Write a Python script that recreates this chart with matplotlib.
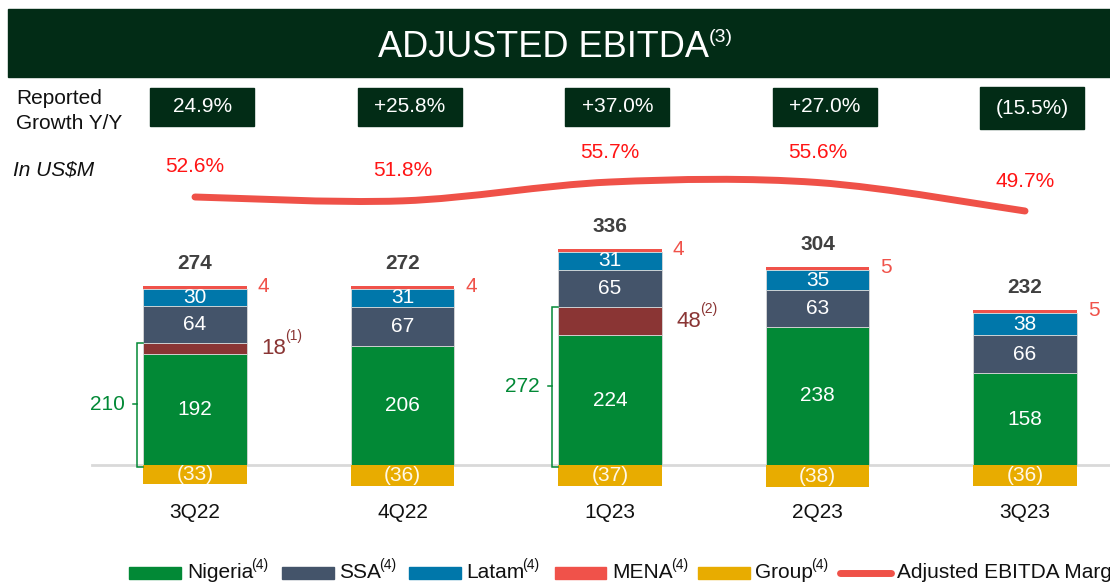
import matplotlib
matplotlib.use('Agg')
import matplotlib.pyplot as plt
import matplotlib.transforms as mtransforms
from matplotlib.patches import Rectangle, PathPatch
from matplotlib.path import Path
import numpy as np

plt.rcParams['font.family'] = ['Liberation Sans', 'DejaVu Sans']

# ---------------- data ----------------
quarters = ['3Q22', '4Q22', '1Q23', '2Q23', '3Q23']
nigeria = [192, 206, 224, 238, 158]
nigeria_other = [18, 0, 48, 0, 0]
other_notes = ['(1)', '', '(2)', '', '']
ssa = [64, 67, 65, 63, 66]
latam = [30, 31, 31, 35, 38]
mena = [4, 4, 4, 5, 5]
group = [-33, -36, -37, -38, -36]
totals = [274, 272, 336, 304, 232]
margin = [52.6, 51.8, 55.7, 55.6, 49.7]
growth = ['24.9%', '+25.8%', '+37.0%', '+27.0%', '(15.5%)']

# ---------------- style ----------------
C_NIG = '#028936'
C_OTH = '#8a3534'
C_SSA = '#44546a'
C_LAT = '#0077aa'
C_MENA = '#f0524a'
C_GRP = '#e8ac00'
C_LINE = '#ef5148'
C_DARK = '#022c16'
C_PCT = '#ff1414'

W, H = 1110, 583
fig = plt.figure(figsize=(W / 100, H / 100), dpi=100)
fig.patch.set_facecolor('white')


def fx(px):
    return px / W


def fy(py):
    return 1 - py / H


renderer = fig.canvas.get_renderer()


def add_sup(t, s, size, color, up_px, gap_px=0):
    bb = t.get_window_extent(renderer)
    return fig.text((bb.x1 + gap_px) / W, (bb.y1 + up_px) / H, s, fontsize=size,
                    color=color, ha='left', va='top')


# ---------------- banner ----------------
fig.add_artist(Rectangle((fx(8), fy(77)), fx(1110) - fx(8), fy(9) - fy(77),
                         transform=fig.transFigure, color=C_DARK, zorder=0))
title = fig.text(fx(543), fy(57), 'ADJUSTED EBITDA', color='white', fontsize=26,
                 ha='center', va='baseline')
add_sup(title, '(3)', 14, 'white', 1, gap_px=0)

fig.text(fx(16), fy(98), 'Reported', fontsize=15, va='center', ha='left', color='#111111')
fig.text(fx(16), fy(124), 'Growth Y/Y', fontsize=15, va='center', ha='left', color='#111111')
fig.text(fx(13), fy(170), 'In US$M', fontsize=15, va='center', ha='left',
         style='italic', color='#111111')

# ---------------- bar axes ----------------
ax = fig.add_axes([0, 0, 1, 1])
ax.set_xlim(-195 / 207.5, (W - 195) / 207.5)
ax.set_ylim(-(H - 465) / 0.58, 465 / 0.58)
ax.axis('off')
ax.patch.set_alpha(0)

x = np.arange(len(quarters))
bw = 0.5
nig = np.array(nigeria)
oth = np.array(nigeria_other)
s_ = np.array(ssa)
la = np.array(latam)
me = np.array(mena)
gr = np.array(group)

ax.axhline(0, xmin=92 / W, xmax=1, color='#d9d9d9', lw=2, zorder=1)

ek = dict(edgecolor='#d8d8d8', linewidth=0.6, zorder=2)
ax.bar(x, nig, bw, color=C_NIG, **ek)
ax.bar(x, oth, bw, bottom=nig, color=C_OTH, **ek)
ax.bar(x, s_, bw, bottom=nig + oth, color=C_SSA, **ek)
ax.bar(x, la, bw, bottom=nig + oth + s_, color=C_LAT, **ek)
ax.bar(x, me, bw, bottom=nig + oth + s_ + la, color=C_MENA, linewidth=0, zorder=2)
ax.bar(x, gr, bw, color=C_GRP, linewidth=0, zorder=2)

top = nig + oth + s_ + la + me
lab = dict(ha='center', va='center', color='white', fontsize=15, zorder=5)
for i in range(len(x)):
    ax.text(x[i], nig[i] / 2, str(nig[i]), **lab)
    ax.text(x[i], nig[i] + oth[i] + s_[i] / 2, str(s_[i]), **lab)
    ax.text(x[i], nig[i] + oth[i] + s_[i] + la[i] / 2, str(la[i]), **lab)
    ax.text(x[i], gr[i] / 2, f'({-gr[i]})', ha='center', va='center',
            color='#fff8e8', fontsize=15, zorder=5)
    ax.annotate(str(totals[i]), (x[i], top[i]), xytext=(0, 16.5), textcoords='offset points',
                ha='center', va='center', fontsize=15, fontweight='bold', color='#404040')
    ax.annotate(str(me[i]), (x[i] + bw / 2, top[i]), xytext=(12, 0), textcoords='offset points',
                ha='center', va='center', fontsize=15, color=C_MENA)
    if oth[i] > 0:
        t = ax.annotate(str(oth[i]), (x[i] + bw / 2, nig[i] + oth[i] / 2), xytext=(10.5, 0),
                        textcoords='offset points', ha='left', va='center',
                        fontsize=16, color=C_OTH)
        add_sup(t, other_notes[i], 10, C_OTH, 9, gap_px=-1)
        # bracket for Nigeria total
        tot = nig[i] + oth[i]
        bx = x[i] - bw / 2 - 6 / 207.5
        ax.plot([x[i] - bw / 2, bx, bx, x[i] - bw / 2], [tot, tot, -2 / 0.58, -2 / 0.58],
                color=C_NIG, lw=1.1, zorder=3, solid_joinstyle='miter')
        ax.plot([bx, bx - 4 / 207.5], [tot / 2, tot / 2], color=C_NIG, lw=1.1, zorder=3)
        ax.text(bx - 12 / 207.5, tot / 2, str(tot), ha='right', va='center',
                fontsize=15, color=C_NIG)

# category labels & growth boxes
trans = mtransforms.blended_transform_factory(ax.transData, fig.transFigure)
box_top = [88, 88, 88, 88, 87]
box_bot = [126, 126, 126, 126, 129]
for i in range(len(x)):
    ax.text(x[i], fy(513), quarters[i], transform=trans, ha='center', va='center',
            fontsize=15, color='#111111')
    cx = x[i] + 0.035
    ax.add_patch(Rectangle((cx - bw / 2, fy(box_bot[i])), bw, fy(box_top[i]) - fy(box_bot[i]),
                           transform=trans, color=C_DARK, zorder=3))
    ax.text(cx, fy((box_top[i] + box_bot[i]) / 2), growth[i], transform=trans,
            ha='center', va='center', fontsize=15, color='white', zorder=4)

# ---------------- margin line ----------------
ax2 = ax.twinx()
ax2.set_position([0, 0, 1, 1])
ax2.set_ylim(52.6 - (H - 197) / 4.83, 52.6 + 197 / 4.83)
ax2.axis('off')
pts = np.column_stack([x, margin])
n = len(pts)
verts = [pts[0]]
codes = [Path.MOVETO]
for i in range(n - 1):
    p0 = pts[max(i - 1, 0)]
    p1 = pts[i]
    p2 = pts[i + 1]
    p3 = pts[min(i + 2, n - 1)]
    verts += [p1 + (p2 - p0) / 6, p2 - (p3 - p1) / 6, p2]
    codes += [Path.CURVE4] * 3
ax2.add_patch(PathPatch(Path(verts, codes), fill=False, edgecolor=C_LINE, lw=5,
                        capstyle='round', zorder=3))
for i in range(n):
    ax2.annotate(f'{margin[i]:.1f}%', (x[i], margin[i]), xytext=(0, 21.6),
                 textcoords='offset points', ha='center', va='center',
                 fontsize=15, color=C_PCT)

# ---------------- legend ----------------
leg_items = [('patch', C_NIG, 129, 181, 'Nigeria', 187),
             ('patch', C_SSA, 282, 334, 'SSA', 339),
             ('patch', C_LAT, 409, 461, 'Latam', 466),
             ('patch', C_MENA, 555, 606, 'MENA', 612),
             ('patch', C_GRP, 698, 750, 'Group', 755),
             ('line', C_LINE, 840, 891, 'Adjusted EBITDA Margin', 897)]
for kind, col, x0, x1, name, tx in leg_items:
    if kind == 'patch':
        fig.add_artist(Rectangle((fx(x0), fy(579)), fx(x1) - fx(x0), fy(567) - fy(579),
                                 transform=fig.transFigure, color=col))
    else:
        fig.add_artist(plt.Line2D([fx(x0), fx(x1)], [fy(573), fy(573)], color=col, lw=5,
                                  solid_capstyle='round', transform=fig.transFigure))
    t = fig.text(fx(tx), fy(578), name, fontsize=15, ha='left', va='baseline', color='#111111')
    if kind == 'patch':
        add_sup(t, '(4)', 10, '#111111', 5, gap_px=-2)

fig.savefig('out.png', dpi=100, facecolor='white')
